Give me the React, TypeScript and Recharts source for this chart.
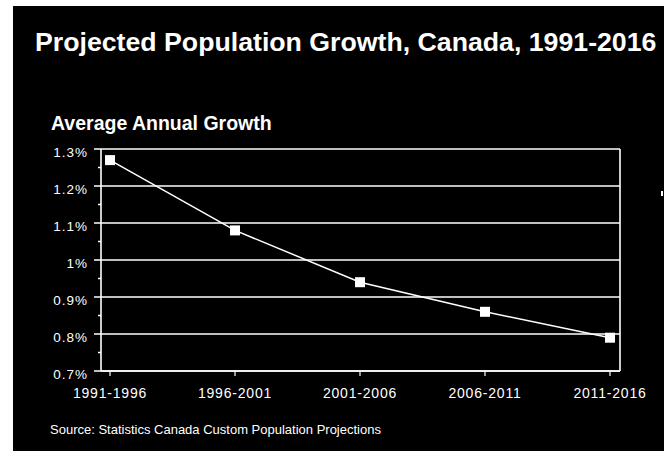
import { LineChart, Line, XAxis, YAxis, ReferenceLine } from "recharts";

// Average annual growth (%) by five-year period
const periods = ["1991-1996", "1996-2001", "2001-2006", "2006-2011", "2011-2016"];
const growth = [1.27, 1.08, 0.94, 0.86, 0.79];
const majorTicks = [0.7, 0.8, 0.9, 1.0, 1.1, 1.2, 1.3];
const minorTicks = [0.75, 0.85, 0.95, 1.05, 1.15, 1.25];

const data = periods.map((period, i) => ({ period, growth: growth[i] }));
const allTicks = [...majorTicks, ...minorTicks].sort((a, b) => a - b);

const FONT = "'Liberation Sans', Arial, Helvetica, sans-serif";
const WHITE = "#ffffff";

const isMajor = (v: number) => majorTicks.some((m) => Math.abs(m - v) < 1e-6);

const YTick: React.FC<any> = ({ x, y, payload }) => {
  const v = payload.value as number;
  const major = isMajor(v);
  return (
    <g>
      <line x1={x - (major ? 7 : 3)} x2={x} y1={y} y2={y} stroke={WHITE} strokeWidth={1.5} />
      {major && (
        <text
          x={x - 13}
          y={y + 8}
          textAnchor="end"
          fill={WHITE}
          fontSize={13.5}
          letterSpacing={1}
          fontFamily={FONT}
        >
          {`${+v.toFixed(1)}%`}
        </text>
      )}
    </g>
  );
};

const XTick: React.FC<any> = ({ x, y, payload }) => (
  <text
    x={x}
    y={y + 22}
    textAnchor="middle"
    fill={WHITE}
    fontSize={14}
    letterSpacing={0.8}
    fontFamily={FONT}
  >
    {payload.value}
  </text>
);

const SquareDot: React.FC<any> = ({ cx, cy }) => (
  <rect x={cx - 5} y={cy - 5} width={10} height={10} fill={WHITE} />
);

const App = () => {
  return (
    <div
      style={{
        position: "absolute",
        top: 0,
        left: 0,
        width: 664,
        height: 451,
        background: "#fff",
        overflow: "hidden",
      }}
    >
      <div
        style={{
          position: "absolute",
          left: 13,
          top: 6,
          width: 651,
          height: 445,
          background: "#000",
        }}
      >
        <LineChart
          width={651}
          height={445}
          data={data}
          margin={{ top: 143, right: 43, bottom: 40, left: 0 }}
        >
          <XAxis
            dataKey="period"
            height={40}
            padding={{ left: 9, right: 10 }}
            axisLine={{ stroke: WHITE, strokeWidth: 1.6 }}
            tickLine={{ stroke: WHITE, strokeWidth: 1.2 }}
            tickSize={5}
            tickMargin={0}
            tick={<XTick />}
            interval={0}
          />
          <YAxis
            yAxisId="left"
            width={88}
            domain={[0.7, 1.3]}
            ticks={allTicks}
            interval={0}
            axisLine={{ stroke: WHITE, strokeWidth: 1.6 }}
            tickLine={false}
            tickSize={0}
            tickMargin={0}
            tick={<YTick />}
          />
          <YAxis
            yAxisId="right"
            orientation="right"
            width={1}
            domain={[0.7, 1.3]}
            axisLine={{ stroke: WHITE, strokeWidth: 1.6 }}
            tick={false}
            tickLine={false}
          />
          {majorTicks.map((v) => (
            <ReferenceLine
              key={v}
              yAxisId="left"
              y={v}
              stroke={WHITE}
              strokeWidth={1.6}
            />
          ))}
          <Line
            yAxisId="left"
            type="linear"
            dataKey="growth"
            stroke={WHITE}
            strokeWidth={1.5}
            dot={<SquareDot />}
            activeDot={false}
            isAnimationActive={false}
          />
        </LineChart>
      </div>
      <svg
        width={664}
        height={451}
        style={{ position: "absolute", left: 0, top: 0, pointerEvents: "none" }}
      >
        <text x={35} y={51} fill={WHITE} fontSize={26.7} fontWeight="bold" fontFamily={FONT}>
          Projected Population Growth, Canada, 1991-2016
        </text>
        <text x={51} y={130} fill={WHITE} fontSize={19.5} fontWeight="bold" fontFamily={FONT}>
          Average Annual Growth
        </text>
        <text x={50} y={434} fill={WHITE} fontSize={13} fontFamily={FONT}>
          Source: Statistics Canada Custom Population Projections
        </text>
        <rect x={661} y={191} width={2} height={5} fill={WHITE} />
      </svg>
    </div>
  );
};

export default App;
